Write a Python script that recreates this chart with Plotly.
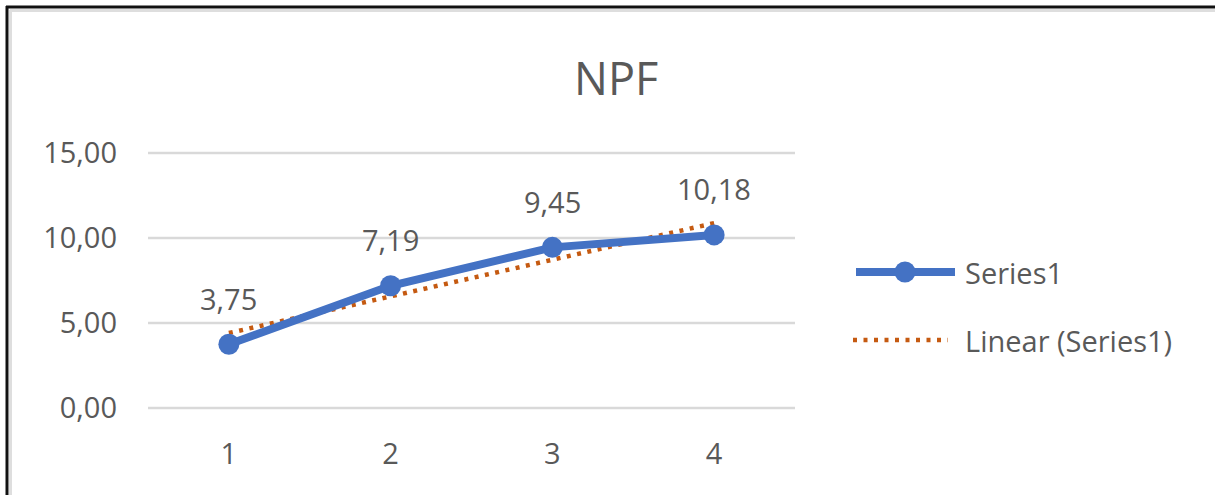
import numpy as np
import plotly.graph_objects as go

# Chart data
categories = [1, 2, 3, 4]
series1 = [3.75, 7.19, 9.45, 10.18]
y_ticks = [0, 5, 10, 15]
y_tick_labels = ["0,00", "5,00", "10,00", "15,00"]
y_range = [0, 15]

W, H = 1215, 495
L, R, T, B = 148, 420, 153, 87  # margins -> plot area 148..795 x 153..408

TEXT = "#595959"
BLUE = "#4472C4"
ORANGE = "#C55A11"
GRID = "#D9D9D9"
FONT = "Open Sans"
DOTS = "4px,6.5px"

# Linear trendline (least squares fit of Series1)
slope, intercept = np.polyfit(categories, series1, 1)
trend = [slope * x + intercept for x in categories]

fig = go.Figure()
fig.add_trace(go.Scatter(
    x=categories, y=trend, mode="lines",
    line=dict(color=ORANGE, width=4.5, dash=DOTS),
    showlegend=False, hoverinfo="skip",
))
fig.add_trace(go.Scatter(
    x=categories, y=series1, mode="lines+markers",
    line=dict(color=BLUE, width=8),
    marker=dict(color=BLUE, size=21),
    showlegend=False,
))

# Value labels above each point
annotations = []
for x, v in zip(categories, series1):
    annotations.append(dict(
        x=x, y=v, xref="x", yref="y", text=f"{v:.2f}".replace(".", ","),
        showarrow=False, yshift=46, font=dict(family=FONT, size=29, color=TEXT),
    ))

pw, ph = W - L - R, H - T - B


def px(x):
    return (x - L) / pw


def py(y):
    return (H - B - y) / ph


# Title
annotations.append(dict(
    x=px(616), y=py(78), xref="paper", yref="paper", text="NPF",
    showarrow=False, font=dict(family=FONT, size=45, color=TEXT),
    xanchor="center", yanchor="middle",
))

# Legend entries
annotations.append(dict(
    x=px(963), y=py(272), xref="paper", yref="paper", text="Series1",
    showarrow=False, xanchor="left", yanchor="middle",
    font=dict(family=FONT, size=29, color=TEXT),
))
annotations.append(dict(
    x=px(963), y=py(340), xref="paper", yref="paper", text="Linear (Series1)",
    showarrow=False, xanchor="left", yanchor="middle",
    font=dict(family=FONT, size=29, color=TEXT),
))

# Horizontal gridlines at every y tick (paper refs so the edge lines are not clipped)
shapes = [
    dict(type="line", xref="paper", yref="paper", x0=0, x1=1,
         y0=(t - y_range[0]) / (y_range[1] - y_range[0]),
         y1=(t - y_range[0]) / (y_range[1] - y_range[0]),
         line=dict(color=GRID, width=2.5), layer="below")
    for t in y_ticks
]

shapes += [
    # legend: Series1 line + marker
    dict(type="line", xref="paper", yref="paper",
         x0=px(856), x1=px(955), y0=py(272), y1=py(272),
         line=dict(color=BLUE, width=8)),
    dict(type="circle", xref="paper", yref="paper",
         x0=px(894.5), x1=px(915.5), y0=py(282.5), y1=py(261.5),
         fillcolor=BLUE, line=dict(color=BLUE, width=0)),
    # legend: trendline
    dict(type="line", xref="paper", yref="paper",
         x0=px(853), x1=px(948), y0=py(340), y1=py(340),
         line=dict(color=ORANGE, width=4.5, dash=DOTS)),
    # outer frame (top and left edges)
    dict(type="line", xref="paper", yref="paper",
         x0=px(6), x1=px(W + 5), y0=py(7), y1=py(7),
         line=dict(color="#111111", width=3)),
    dict(type="line", xref="paper", yref="paper",
         x0=px(7), x1=px(7), y0=py(6), y1=py(H + 5),
         line=dict(color="#111111", width=3)),
    dict(type="line", xref="paper", yref="paper",
         x0=px(10), x1=px(W + 5), y0=py(10.5), y1=py(10.5),
         line=dict(color="#DEDEDE", width=3)),
    dict(type="line", xref="paper", yref="paper",
         x0=px(10.5), x1=px(10.5), y0=py(10), y1=py(H + 5),
         line=dict(color="#DEDEDE", width=3)),
]

fig.update_layout(
    width=W, height=H,
    margin=dict(l=L, r=R, t=T, b=B),
    paper_bgcolor="white", plot_bgcolor="white",
    showlegend=False,
    annotations=annotations,
    shapes=shapes,
    font=dict(family=FONT, color=TEXT),
)
fig.update_xaxes(
    range=[0.5, 4.5], tickvals=categories, ticktext=[str(c) for c in categories],
    showgrid=False, zeroline=False, showline=False, ticks="",
    tickfont=dict(family=FONT, size=29, color=TEXT),
    ticklabelstandoff=26,
)
fig.update_yaxes(
    range=y_range, tickvals=y_ticks, ticktext=y_tick_labels,
    showgrid=False, zeroline=False, showline=False, ticks="",
    tickfont=dict(family=FONT, size=29, color=TEXT),
    ticklabelstandoff=30,
)

fig.write_html("out.html")
